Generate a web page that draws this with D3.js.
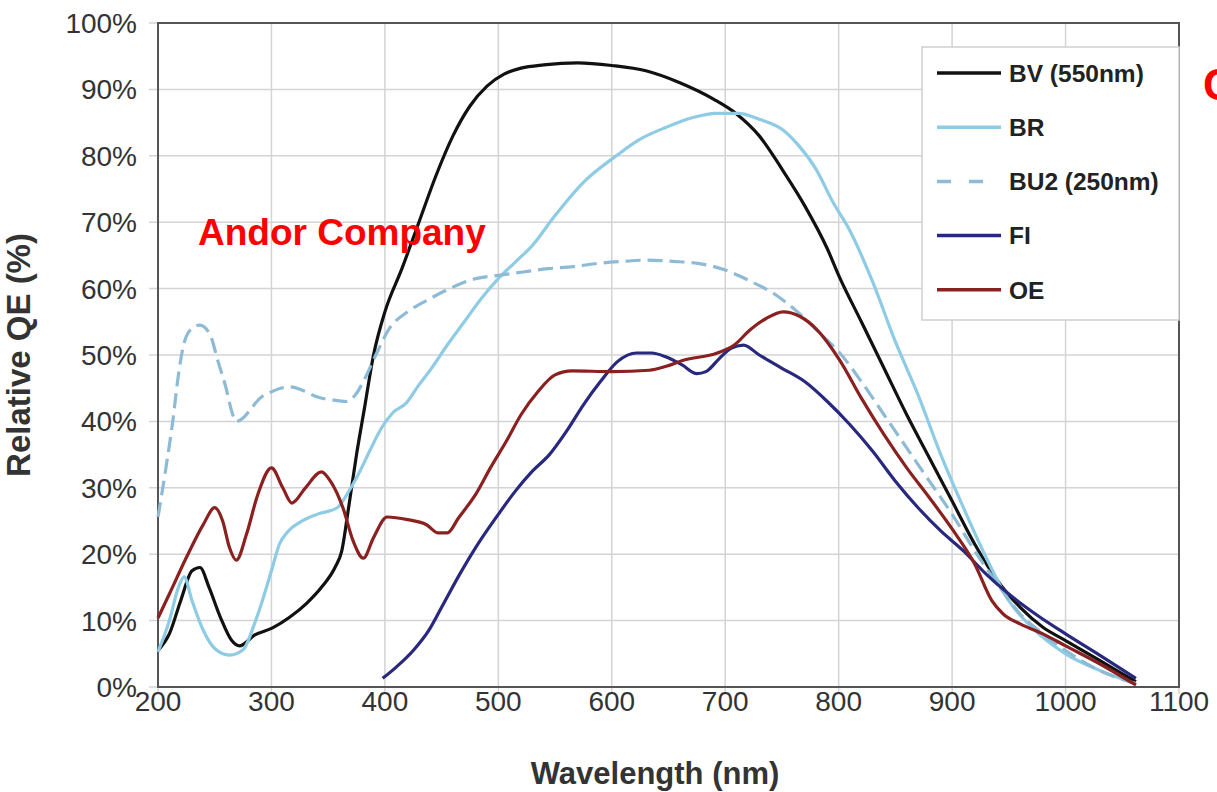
<!DOCTYPE html>
<html>
<head>
<meta charset="utf-8">
<script src="https://cdn.jsdelivr.net/npm/d3@7"></script>
<style>
  body { margin: 0; background: #fff; overflow: hidden; }
  text { font-family: "Liberation Sans", Arial, sans-serif; }
</style>
</head>
<body>
<svg></svg>
<script>
const width = 1217;
const height = 792;

// [wavelength nm, relative QE %]
const bv = [[200,5.5],[210,8],[220,13],[230,17.5],[237,18],[245,15],[255,10.5],[265,7],[272,6.2],[285,7.8],[301,8.9],[316,10.5],[331,12.6],[345,15.2],[356,18],[362,20.5],[368,27],[375,35],[382,42],[390,50],[400,56.5],[415,63],[430,70],[445,77],[460,83],[475,87.5],[490,90.5],[505,92.3],[520,93.2],[540,93.7],[570,94],[600,93.6],[630,92.8],[660,91],[690,88.5],[710,86.3],[730,83],[750,78],[770,72.5],[790,66],[800,62],[820,55],[840,48],[860,41],[880,34.5],[900,28],[920,21.5],[940,16],[960,12],[980,9],[1000,7],[1030,4],[1062,0.8]];
const br = [[200,5.3],[210,10],[218,15],[223,16.6],[230,13],[240,8.5],[250,5.8],[263,4.8],[275,5.6],[285,9.5],[292,13],[300,17.5],[307,21.5],[315,23.5],[325,24.8],[340,26],[358,27],[369,29.7],[378,32.5],[387,35.7],[397,39],[407,41.3],[419,42.8],[430,45.5],[439,47.5],[455,51.5],[470,55],[485,58.5],[500,61.5],[515,64],[530,66.5],[550,71],[575,76],[604,80],[625,82.5],[648,84.3],[670,85.7],[692,86.4],[712,86.4],[730,85.5],[750,84],[765,81.5],[780,78],[795,73],[809,69],[830,61],[850,52],[870,44],[890,35],[910,27],[930,19.5],[950,13],[970,9],[1000,5],[1030,2.5],[1062,0.5]];
const bu2 = [[200,25.6],[207,33],[213,40],[218,47],[223,51.8],[230,54],[237,54.5],[246,53],[253,49],[260,45],[265,41.5],[269,40],[275,40.5],[281,41.7],[290,43.5],[298,44.3],[316,45.2],[330,44.5],[340,43.7],[355,43.2],[366,43],[374,44],[381,46],[392,50],[404,54],[420,56.5],[440,58.5],[457,60],[480,61.5],[500,62],[522,62.5],[544,63],[566,63.3],[588,63.8],[610,64.1],[632,64.3],[654,64.1],[676,63.8],[700,62.8],[720,61.3],[745,59],[765,56.3],[785,53],[800,50.5],[820,46],[840,41],[860,36],[880,31],[900,26],[920,20.5],[940,15.5],[960,11],[980,8],[1000,5.5],[1030,2.5],[1062,0.5]];
const fi = [[398,1.3],[410,3],[425,5.5],[439,8.6],[450,12],[466,17],[480,21],[500,26],[515,29.5],[530,32.5],[545,35],[560,38.5],[575,42.5],[590,46],[605,49],[622,50.3],[635,50.3],[648,49.7],[662,48.5],[675,47.2],[683,47.5],[695,49.5],[705,51],[716,51.5],[730,50],[750,48],[770,46],[790,43],[810,39.5],[830,35.5],[850,31],[870,27],[890,23.5],[910,20.5],[930,17],[950,14],[975,10.8],[1000,8],[1030,4.8],[1062,1.3]];
const oe = [[200,10.4],[210,14],[225,19.5],[240,24.5],[250,27],[257,25],[263,21],[269,19.1],[278,23],[288,29],[300,33],[310,30],[318,27.7],[330,30],[344,32.4],[352,31],[363,27],[372,22],[381,19.4],[390,22.5],[402,25.6],[420,25.2],[437,24.4],[447,23.2],[455,23.2],[465,25.5],[480,29],[493,33],[507,37],[520,41],[535,44.5],[550,47],[565,47.6],[600,47.5],[633,47.7],[648,48.3],[663,49.2],[693,50.3],[708,51.5],[722,53.8],[736,55.5],[751,56.5],[766,55.8],[781,53.8],[801,49.2],[820,43.5],[840,38],[860,33],[880,28.5],[900,23.8],[920,18.5],[935,13],[945,11],[960,9.5],[980,8],[1000,6.2],[1030,3.5],[1062,0.3]];

const xTicks = [200, 300, 400, 500, 600, 700, 800, 900, 1000, 1100];
const yTicks = [0, 10, 20, 30, 40, 50, 60, 70, 80, 90, 100];

const series = [
    { name: "BV (550nm)", data: bv, color: "#111111", dash: null },
    { name: "BR", data: br, color: "#8ecbe4", dash: null },
    { name: "BU2 (250nm)", data: bu2, color: "#8dbbd6", dash: "15,7" },
    { name: "FI", data: fi, color: "#27287e", dash: null },
    { name: "OE", data: oe, color: "#8a2020", dash: null }
];

const plot = { left: 158, top: 23, right: 1179, bottom: 687 };

const svg = d3.select("svg")
    .attr("width", width)
    .attr("height", height);

const x = d3.scaleLinear().domain([200, 1100]).range([plot.left, plot.right]);
const y = d3.scaleLinear().domain([0, 100]).range([plot.bottom, plot.top]);

// grid
svg.append("g").selectAll("line")
    .data(xTicks)
    .enter().append("line")
    .attr("x1", d => x(d)).attr("x2", d => x(d))
    .attr("y1", plot.top).attr("y2", plot.bottom + 7)
    .attr("stroke", "#d4d4d4")
    .attr("stroke-width", 1.5);

svg.append("g").selectAll("line")
    .data(yTicks)
    .enter().append("line")
    .attr("x1", plot.left - 9).attr("x2", plot.right)
    .attr("y1", d => y(d)).attr("y2", d => y(d))
    .attr("stroke", "#d4d4d4")
    .attr("stroke-width", 1.5);

// tick labels
svg.append("g").selectAll("text")
    .data(yTicks)
    .enter().append("text")
    .attr("x", 137)
    .attr("y", d => y(d))
    .attr("dy", "0.36em")
    .attr("text-anchor", "end")
    .style("font-size", "28px")
    .attr("fill", "#333")
    .text(d => d + "%");

svg.append("g").selectAll("text")
    .data(xTicks)
    .enter().append("text")
    .attr("x", d => x(d))
    .attr("y", 711)
    .attr("text-anchor", "middle")
    .style("font-size", "28px")
    .attr("fill", "#333")
    .text(d => d);

// frame
svg.append("rect")
    .attr("x", plot.left).attr("y", plot.top)
    .attr("width", plot.right - plot.left)
    .attr("height", plot.bottom - plot.top)
    .attr("fill", "none")
    .attr("stroke", "#555")
    .attr("stroke-width", 2);

// curves
const line = d3.line()
    .x(d => x(d[0]))
    .y(d => y(d[1]))
    .curve(d3.curveMonotoneX);

svg.append("g").selectAll("path")
    .data(series)
    .enter().append("path")
    .attr("d", d => line(d.data))
    .attr("fill", "none")
    .attr("stroke", d => d.color)
    .attr("stroke-width", 3.2)
    .attr("stroke-dasharray", d => d.dash)
    .attr("stroke-linejoin", "round");

// legend
const legend = svg.append("g");
legend.append("rect")
    .attr("x", 922).attr("y", 47)
    .attr("width", plot.right - 922).attr("height", 273)
    .attr("fill", "#fff")
    .attr("stroke", "#cfcfcf")
    .attr("stroke-width", 1.5);

const row = legend.selectAll(".row")
    .data(series)
    .enter().append("g")
    .attr("class", "row")
    .attr("transform", (d, i) => `translate(937,${73 + i * 54.2})`);

row.append("line")
    .attr("x1", 0).attr("x2", 64)
    .attr("stroke", d => d.color)
    .attr("stroke-width", 3.5)
    .attr("stroke-dasharray", d => d.dash ? "14,18" : null);

row.append("text")
    .attr("x", 72)
    .attr("dy", "0.36em")
    .style("font-size", "24.5px")
    .style("font-weight", "bold")
    .attr("fill", "#222")
    .text(d => d.name);

// axis titles
svg.append("text")
    .attr("x", 655)
    .attr("y", 784)
    .attr("text-anchor", "middle")
    .style("font-size", "31px")
    .style("font-weight", "bold")
    .attr("fill", "#333")
    .text("Wavelength (nm)");

svg.append("text")
    .attr("transform", "translate(30,355) rotate(-90)")
    .attr("text-anchor", "middle")
    .style("font-size", "33px")
    .style("font-weight", "bold")
    .attr("fill", "#333")
    .text("Relative QE (%)");

// watermark
svg.append("text")
    .attr("x", 198)
    .attr("y", 245)
    .style("font-size", "37px")
    .style("font-weight", "bold")
    .attr("fill", "#ff0000")
    .text("Andor Company");

// red mark cut off at the right edge, as in the source picture
svg.append("text")
    .attr("x", 1203)
    .attr("y", 100)
    .style("font-size", "44px")
    .style("font-weight", "bold")
    .attr("fill", "#ff0000")
    .text("C");
</script>
</body>
</html>
